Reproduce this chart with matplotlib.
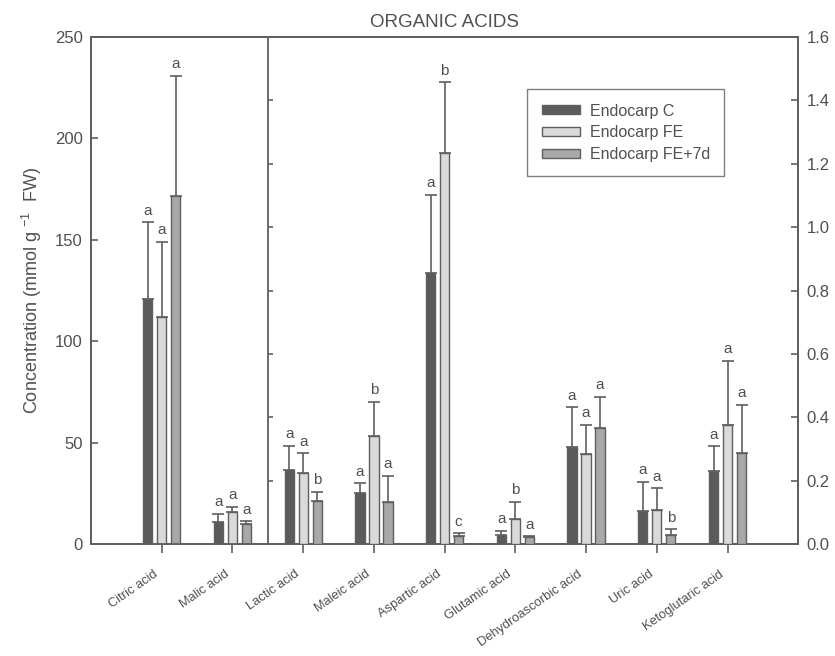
import numpy as np
import matplotlib
matplotlib.use('Agg')
import matplotlib.pyplot as plt
import matplotlib.transforms as mtransforms

plt.rcParams['font.family'] = ['Liberation Sans', 'DejaVu Sans']
plt.rcParams['mathtext.fontset'] = 'custom'
plt.rcParams['mathtext.rm'] = 'Liberation Sans'

# acids on the left scale (citric, malic) and on the right scale (the rest)
left_acids = ['Citric acid', 'Malic acid']
right_acids = ['Lactic acid', 'Maleic acid', 'Aspartic acid', 'Glutamic acid',
               'Dehydroascorbic acid', 'Uric acid', 'Ketoglutaric acid']
series = ['Endocarp C', 'Endocarp FE', 'Endocarp FE+7d']

# means and upper error (mean + sd) for each series, left scale
left_mean = {'Endocarp C': [121.0, 11.0],
             'Endocarp FE': [112.0, 15.8],
             'Endocarp FE+7d': [171.4, 9.8]}
left_top = {'Endocarp C': [158.6, 14.8],
            'Endocarp FE': [149.0, 18.4],
            'Endocarp FE+7d': [231.0, 11.2]}
left_letters = {'Endocarp C': ['a', 'a'],
                'Endocarp FE': ['a', 'a'],
                'Endocarp FE+7d': ['a', 'a']}

# right scale
right_mean = {'Endocarp C': [0.235, 0.162, 0.854, 0.029, 0.305, 0.104, 0.230],
              'Endocarp FE': [0.223, 0.340, 1.235, 0.078, 0.284, 0.106, 0.376],
              'Endocarp FE+7d': [0.137, 0.132, 0.024, 0.022, 0.367, 0.029, 0.288]}
right_top = {'Endocarp C': [0.310, 0.191, 1.102, 0.041, 0.431, 0.196, 0.308],
             'Endocarp FE': [0.286, 0.448, 1.457, 0.133, 0.376, 0.176, 0.578],
             'Endocarp FE+7d': [0.164, 0.215, 0.034, 0.024, 0.464, 0.046, 0.440]}
right_letters = {'Endocarp C': ['a', 'a', 'a', 'a', 'a', 'a', 'a'],
                 'Endocarp FE': ['a', 'b', 'b', 'b', 'a', 'a', 'a'],
                 'Endocarp FE+7d': ['b', 'a', 'c', 'a', 'a', 'b', 'a']}

colors = {'Endocarp C': '#5b5b5b', 'Endocarp FE': '#dadada', 'Endocarp FE+7d': '#a8a8a8'}
gray = '#5f5f5f'
txt = '#505050'

fig = plt.figure(figsize=(8.35, 6.56), dpi=100)
ax = fig.add_axes([0.109, 0.1707, 0.847, 0.7729])
ax2 = ax.twinx()

ax.set_xlim(-1, 9)
ax.set_ylim(0, 250)
ax2.set_ylim(0, 1.6)

step = 0.198
width = 0.13
offsets = [-step, 0, step]


def draw(a, xs, means, tops, letters, ymax):
    for k, s in enumerate(series):
        xp = np.array(xs) + offsets[k]
        m = np.array(means[s])
        t = np.array(tops[s])
        a.bar(xp, m, width=width, color=colors[s], edgecolor=gray,
              linewidth=1.0, label=s, zorder=3)
        a.errorbar(xp, m, yerr=[np.zeros_like(m), t - m], fmt='none',
                   ecolor=gray, elinewidth=1.2, capsize=4, capthick=1.2, zorder=2)
        for x, y, l in zip(xp, t, letters[s]):
            a.text(x, y + ymax * 0.009, l, ha='center', va='bottom',
                   fontsize=11, color=txt)


xl = np.arange(len(left_acids))
xr = np.arange(len(right_acids)) + len(left_acids)
draw(ax, xl, left_mean, left_top, left_letters, 250)
draw(ax2, xr, right_mean, right_top, right_letters, 1.6)

# divider between the two scales, with the right-scale ticks on it
ax.axvline(1.5, color=gray, linewidth=1.3, zorder=4)
ax2.hlines(np.arange(0.2, 1.5, 0.2), 1.5, 1.57, color=gray, linewidth=1.2)

ax.set_xticks(np.arange(len(left_acids) + len(right_acids)))
ax.set_xticklabels(left_acids + right_acids, rotation=35, ha='right',
                   rotation_mode='anchor', fontsize=9.3, color=txt)
ax.tick_params(axis='x', direction='out', length=6.5, width=1.2, color=gray, pad=11)
ax.tick_params(axis='y', direction='in', length=5, width=1.2, color=gray,
               labelsize=12, labelcolor=txt, pad=6)
ax2.tick_params(axis='y', direction='in', length=5, width=1.2, color=gray,
                labelsize=12, labelcolor=txt, pad=6)
ax.set_yticks([0, 50, 100, 150, 200, 250])
ax2.set_yticks(np.round(np.arange(0, 1.61, 0.2), 1))
ax2.set_yticklabels(['%.1f' % v for v in np.arange(0, 1.61, 0.2)])

# nudge the slanted category names a little to the left of their ticks
shift = mtransforms.ScaledTranslation(-6 / 72, 0, fig.dpi_scale_trans)
for lab in ax.xaxis.get_majorticklabels():
    lab.set_transform(lab.get_transform() + shift)

for a in (ax, ax2):
    for sp in a.spines.values():
        sp.set_color(gray)
        sp.set_linewidth(1.3)

ax.set_ylabel('Concentration (mmol g $^{-1}$  FW)', fontsize=13, color=txt, labelpad=8)
ax.set_title('ORGANIC ACIDS', fontsize=13.5, color=txt, pad=7)

h, l = ax2.get_legend_handles_labels()
leg = ax2.legend(h, l, loc='upper left', bbox_to_anchor=(0.617, 0.897),
                 fontsize=11.5, frameon=True, fancybox=False, edgecolor=gray,
                 handlelength=2.4, handleheight=0.5, labelspacing=0.42,
                 borderpad=0.9, handletextpad=0.6, borderaxespad=0)
for t in leg.get_texts():
    t.set_color(txt)
leg.get_frame().set_linewidth(1.0)

fig.savefig('out.png', dpi=100)
